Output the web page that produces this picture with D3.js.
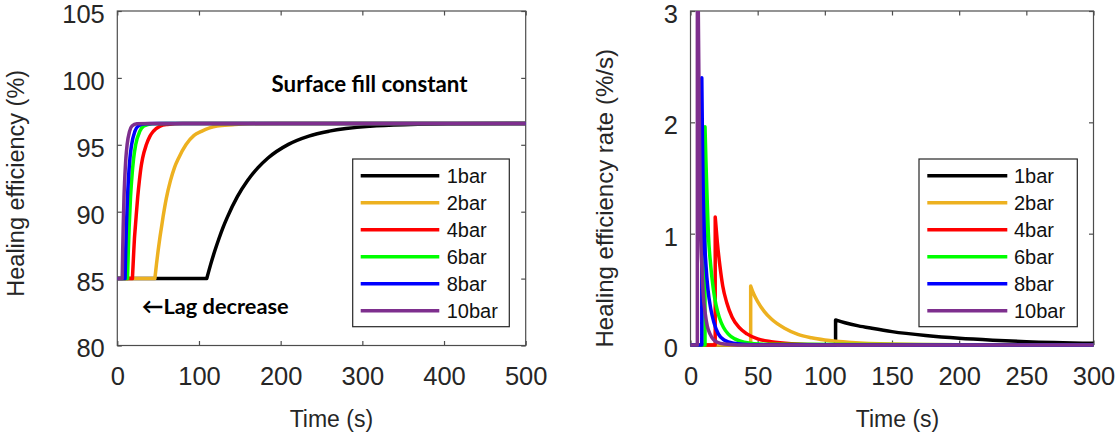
<!DOCTYPE html>
<html>
<head>
<meta charset="utf-8">
<script src="https://cdn.jsdelivr.net/npm/d3@7"></script>
<style>
  body { margin: 0; background: #fff; }
  svg { display: block; }
</style>
</head>
<body>
<svg id="chart" width="1117" height="434"></svg>
<script>
// series names and colours (MATLAB-ish)
var labels = ["1bar", "2bar", "4bar", "6bar", "8bar", "10bar"]
var colors = ["#000000", "#edb120", "#ff0000", "#00ff00", "#0000ff", "#7e2f8e"]

// left panel: healing efficiency (%) vs time (s)
var eff1bar = [[0,85],[109.5,85],[114.5,86.1],[119.5,87.1],[124.5,88.0],[129.5,88.83],[134.5,89.56],[147,91.12],[159.5,92.33],[172,93.27],[184.5,94.01],[209.5,95.03],[234.5,95.65],[259.5,96.02],[309.5,96.39],[359.5,96.52],[409.5,96.57],[500,96.6]]
var eff2bar = [[0,85],[46,85],[48,86.1],[50,87.1],[52,88.0],[54,88.8],[56,89.6],[60,91.0],[65,92.3],[70,93.3],[75,94.0],[84,95.0],[94,95.7],[103,96.0],[122,96.4],[141,96.5],[160,96.57],[200,96.6],[500,96.6]]
var eff4bar = [[0,85],[18.5,85],[19.4,86.1],[20.2,87.1],[21,88.0],[22,88.8],[23,89.6],[25,91.1],[27,92.3],[29,93.3],[31,94.0],[35.5,95.0],[40,95.65],[44,96.0],[52.5,96.4],[61,96.52],[80,96.6],[500,96.6]]
var eff6bar = [[0,85],[12.5,85],[13.5,87.1],[14.5,88.8],[16.2,91.1],[17.5,92.3],[20,94.0],[22.5,95.0],[27.5,96.0],[32.5,96.4],[42.5,96.57],[60,96.6],[500,96.6]]
var eff8bar = [[0,85],[9.5,85],[10.3,87.1],[11.1,88.8],[12.5,91.1],[13.5,92.3],[15.5,94.0],[17.5,95.0],[21.5,96.0],[25.5,96.4],[33.5,96.57],[50,96.6],[500,96.6]]
var eff10bar = [[0,85],[6,85],[6.6,87.1],[7.2,88.8],[8.2,91.1],[9,92.3],[10.5,94.0],[12,95.0],[15,96.0],[18,96.4],[24,96.57],[40,96.6],[500,96.6]]

// right panel: healing efficiency rate (%/s) vs time (s)
var rate1bar = [[0,0],[108,0],[108,0.225],[115,0.20],[125,0.172],[135,0.15],[150,0.12],[175,0.085],[200,0.06],[225,0.043],[250,0.03],[300,0.015]]
var rate2bar = [[0,0],[44.8,0],[44.8,0.53],[47,0.46],[50,0.39],[55,0.30],[60,0.235],[70,0.15],[80,0.095],[90,0.065],[100,0.045],[120,0.022],[150,0.008],[200,0.002],[300,0]]
var rate4bar = [[0,0],[18.4,0],[18.4,1.15],[20,0.92],[22,0.70],[24,0.53],[27,0.38],[31,0.25],[36,0.16],[42,0.10],[50,0.055],[60,0.03],[75,0.012],[100,0.003],[300,0]]
var rate6bar = [[0,0],[10.8,0],[10.8,1.96],[11.5,1.65],[12.3,1.35],[13.3,1.0],[15,0.72],[17,0.5],[19,0.36],[21.4,0.25],[24.5,0.16],[28,0.10],[33,0.055],[40,0.025],[55,0.006],[300,0]]
var rate8bar = [[0,0],[8.4,0],[8.4,2.40],[8.9,1.85],[9.5,1.35],[10.3,1.0],[11.5,0.72],[13,0.5],[15,0.33],[17.5,0.2],[20.7,0.1],[25,0.045],[32,0.015],[45,0.003],[300,0]]
var rate10bar = [[0,0],[5.1,0],[5.1,3.6],[5.8,3.0],[6.4,2.2],[7.0,1.6],[7.6,1.0],[8.5,0.7],[9.5,0.45],[11,0.28],[12.5,0.17],[14.5,0.1],[17,0.05],[20,0.025],[25,0.008],[35,0.001],[300,0]]

var effXTicks = [0, 100, 200, 300, 400, 500]
var effYTicks = [80, 85, 90, 95, 100, 105]
var rateXTicks = [0, 50, 100, 150, 200, 250, 300]
var rateYTicks = [0, 1, 2, 3]

var effSeries = [eff1bar, eff2bar, eff4bar, eff6bar, eff8bar, eff10bar]
var rateSeries = [rate1bar, rate2bar, rate4bar, rate6bar, rate8bar, rate10bar]

var fontFam = "'Liberation Sans', Arial, Helvetica, sans-serif"
var boxColor = "#4d4d4d"
var textColor = "#262626"

var svg = d3.select("#chart")

var xEff = d3.scaleLinear().domain([0, 500]).range([117.3, 525.7])
var yEff = d3.scaleLinear().domain([80, 105]).range([345.5, 11])
var xRate = d3.scaleLinear().domain([0, 300]).range([690.5, 1093.5])
var yRate = d3.scaleLinear().domain([0, 3]).range([345, 11])

function drawAxes(x, y, xTicks, yTicks, padBottom) {
    var x0 = x.range()[0], x1 = x.range()[1]
    var y0 = y.range()[0], y1 = y.range()[1]
    var fmt = d3.format("d")

    var bottom = svg.append("g")
                    .attr("transform", `translate(0,${y0})`)
                    .call(d3.axisBottom(x).tickValues(xTicks).tickFormat(fmt).tickSize(-4.5).tickSizeOuter(0).tickPadding(padBottom))
    var top = svg.append("g")
                 .attr("transform", `translate(0,${y1})`)
                 .call(d3.axisTop(x).tickValues(xTicks).tickSize(-4.5).tickSizeOuter(0).tickFormat(""))
    var left = svg.append("g")
                  .attr("transform", `translate(${x0},0)`)
                  .call(d3.axisLeft(y).tickValues(yTicks).tickFormat(fmt).tickSize(-4.5).tickSizeOuter(0).tickPadding(12.5))
    var right = svg.append("g")
                   .attr("transform", `translate(${x1},0)`)
                   .call(d3.axisRight(y).tickValues(yTicks).tickSize(-4.5).tickSizeOuter(0).tickFormat(""))

    ;[bottom, top, left, right].forEach(g => {
        g.select(".domain").remove()
        g.selectAll("line").attr("stroke", boxColor).attr("stroke-width", 1.2)
        g.selectAll("text")
         .attr("font-family", fontFam)
         .attr("font-size", 25.5)
         .attr("fill", textColor)
    })
    left.selectAll("text").attr("dy", "0.45em")

    svg.append("rect")
       .attr("x", x0)
       .attr("y", y1)
       .attr("width", x1 - x0)
       .attr("height", y0 - y1)
       .attr("fill", "none")
       .attr("stroke", boxColor)
       .attr("stroke-width", 1.2)
}

// flat / vertical part drawn straight, the decay part smooth
function seriesPath(points, x, y, split) {
    var straight = d3.line().x(d => x(d[0])).y(d => y(d[1]))
    var smooth = d3.line().x(d => x(d[0])).y(d => y(d[1])).curve(d3.curveMonotoneX)
    var a = straight(points.slice(0, split + 1))
    var b = smooth(points.slice(split))
    return a + b.replace(/^M/, "L")
}

function drawLegend(bx, by, bw, bh, lx0, lx1, tx) {
    var g = svg.append("g")
    g.append("rect")
     .attr("x", bx)
     .attr("y", by)
     .attr("width", bw)
     .attr("height", bh)
     .attr("fill", "#ffffff")
     .attr("stroke", "#262626")
     .attr("stroke-width", 1.2)
    var rows = g.selectAll(".row")
                .data(labels)
                .enter()
                .append("g")
                .attr("class", "row")
                .attr("transform", (d, i) => `translate(0,${175.7 + i * 27})`)
    rows.append("line")
        .attr("x1", lx0)
        .attr("x2", lx1)
        .attr("stroke", (d, i) => colors[i])
        .attr("stroke-width", 3.5)
    rows.append("text")
        .attr("x", tx)
        .attr("y", 7.6)
        .attr("font-family", fontFam)
        .attr("font-size", 20)
        .attr("fill", "#111")
        .text(d => d)
}

function fitText(sel, target) {
    var fs = 20
    var w = sel.node().getComputedTextLength()
    sel.attr("font-size", fs * target / w)
}

// ---------- left panel ----------
drawAxes(xEff, yEff, effXTicks, effYTicks, 21.4)

svg.append("g")
   .selectAll(".eff")
   .data(effSeries)
   .enter()
   .append("path")
   .attr("class", "eff")
   .attr("d", d => {
       var k = 0
       while (k + 1 < d.length && d[k + 1][1] === d[0][1]) k++
       return seriesPath(d, xEff, yEff, k)
   })
   .attr("fill", "none")
   .attr("stroke", (d, i) => colors[i])
   .attr("stroke-width", 3.5)
   .attr("stroke-linejoin", "round")

var surf = svg.append("text")
              .attr("x", 271.6)
              .attr("y", 91.5)
              .attr("font-family", "Lato, 'Open Sans', sans-serif")
              .attr("font-weight", 700)
              .attr("font-size", 20)
              .attr("fill", "#000")
              .text("Surface fill constant")
fitText(surf, 196)

var lag = svg.append("text")
             .attr("x", 141.7)
             .attr("y", 314)
             .attr("font-family", "Lato, 'Open Sans', sans-serif")
             .attr("font-weight", 700)
             .attr("font-size", 20)
             .attr("fill", "#000")
             .text("\u2190Lag decrease")
fitText(lag, 147)

drawLegend(352.7, 159, 156.6, 167.7, 360.7, 439.3, 446.7)

svg.append("text")
   .attr("x", 331.4)
   .attr("y", 427)
   .attr("text-anchor", "middle")
   .attr("font-family", fontFam)
   .attr("font-size", 23)
   .attr("fill", textColor)
   .text("Time (s)")

svg.append("text")
   .attr("transform", "translate(24,183.3) rotate(-90)")
   .attr("text-anchor", "middle")
   .attr("font-family", fontFam)
   .attr("font-size", 23.5)
   .attr("fill", textColor)
   .text("Healing efficiency (%)")

// ---------- right panel ----------
drawAxes(xRate, yRate, rateXTicks, rateYTicks, 21.9)

svg.append("clipPath")
   .attr("id", "rateClip")
   .append("rect")
   .attr("x", xRate.range()[0] - 5)
   .attr("y", yRate.range()[1])
   .attr("width", xRate.range()[1] - xRate.range()[0] + 10)
   .attr("height", yRate.range()[0] - yRate.range()[1] + 5)

svg.append("g")
   .attr("clip-path", "url(#rateClip)")
   .selectAll(".rate")
   .data(rateSeries)
   .enter()
   .append("path")
   .attr("class", "rate")
   .attr("d", d => seriesPath(d, xRate, yRate, d3.maxIndex(d, p => p[1])))
   .attr("fill", "none")
   .attr("stroke", (d, i) => colors[i])
   .attr("stroke-width", 3.5)
   .attr("stroke-linejoin", "round")

drawLegend(919, 159, 158.3, 167.7, 927.3, 1007.3, 1014)

svg.append("text")
   .attr("x", 897.5)
   .attr("y", 427)
   .attr("text-anchor", "middle")
   .attr("font-family", fontFam)
   .attr("font-size", 23)
   .attr("fill", textColor)
   .text("Time (s)")

svg.append("text")
   .attr("transform", "translate(613,198.3) rotate(-90)")
   .attr("text-anchor", "middle")
   .attr("font-family", fontFam)
   .attr("font-size", 24)
   .attr("fill", textColor)
   .text("Healing efficiency rate (%/s)")
</script>
</body>
</html>
